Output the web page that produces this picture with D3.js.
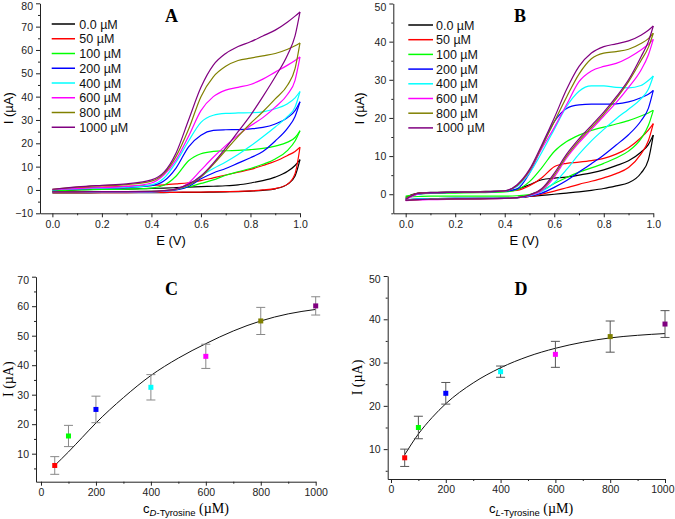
<!DOCTYPE html>
<html><head><meta charset="utf-8">
<script src="https://cdn.jsdelivr.net/npm/d3@7/dist/d3.min.js"></script>
<style>body{margin:0;background:#fff}</style>
</head><body><svg id="chart" width="675" height="519"></svg>
<script>
// ---------- DATA ----------
const concLabels = ["0.0 µM","50 µM","100 µM","200 µM","400 µM","600 µM","800 µM","1000 µM"];
const seriesColors = ["#000000","#ff0000","#00ff00","#0000ff","#00ffff","#ff00ff","#808000","#800080"];
const potentials = [0,0.05,0.1,0.2,0.3,0.4,0.45,0.5,0.55,0.6,0.65,0.7,0.75,0.8,0.85,0.9,0.95,0.98,1.0];

// Panel A (D-tyrosine) forward scan (lower branch) and reverse scan (upper branch), µA
const cvA_forward = [
  [-1.3,-1.3,-1.3,-1.2,-1.2,-1.1,-1.1,-1.0,-1.0,-1.0,-0.9,-0.8,-0.7,-0.5,-0.2,0.5,2.5,6,13],
  [-1.2,-1.2,-1.2,-1.1,-1.1,-1.0,-1.0,-1.0,-0.9,-0.9,-0.8,-0.7,-0.6,-0.4,0,0.6,2.5,7,18.3],
  [-0.8,-0.8,-0.8,-0.8,-0.7,-0.6,-0.4,0.2,1.3,2.8,4.3,6.3,7.8,9.2,11,13.3,17,21,25.4],
  [-1,-1,-1,-0.9,-0.9,-0.8,-0.5,0,1.5,4.8,7.3,9.2,11.5,13.8,16.5,21,26.5,31.5,37.8],
  [-1,-1,-1,-0.9,-0.9,-0.8,-0.5,0.3,2,6,9.2,12,15.2,18.8,22.8,27,31.5,35.5,42.2],
  [-0.9,-0.9,-0.9,-0.8,-0.8,-0.7,-0.4,0.3,3,8.5,14,19,23.5,27.5,31,35.5,41,47,57],
  [-0.8,-0.8,-0.8,-0.7,-0.7,-0.6,-0.3,0.3,2,5.5,11,17,23,28.5,33.5,39,45,52,63],
  [-0.8,-0.8,-0.8,-0.7,-0.7,-0.6,-0.3,0.5,2.5,6,11.5,18,25,32,40,48.5,58,66,76.3]
];
const cvA_reverse = [
  [-0.6,-0.3,0,0.3,0.4,0.7,0.8,1.0,1.2,1.4,1.6,1.8,2.2,3,4,5.5,8,10.5,13],
  [0,0.4,0.8,1.2,1.5,2,2.2,2.6,3.1,4,5.2,6.4,7.6,8.8,10.5,12.3,14.8,16.5,18.3],
  [-0.5,-0.2,0,0.2,0.4,0.8,2,6,12.5,15.5,16.5,16.8,17,17.3,17.8,18.8,20.5,22.5,25.4],
  [0,0.3,0.5,0.8,1,1.8,3.8,9.5,18.5,23.5,25.5,25.8,25.9,26.2,26.8,28.3,31,34,37.8],
  [0,0.3,0.5,0.8,1.2,2.2,5,12,21,29,32,32.8,33,33.1,33.5,34.8,37,39.5,42.2],
  [0.2,0.4,0.6,1,1.5,3,6.4,13,23,34,40,42.8,44,45.2,47.5,50.5,53.5,55.5,57],
  [0.3,0.8,1.2,1.8,2.3,3.8,7,14.5,26,40,48.5,53,55.5,56.5,57.5,58.5,60.3,61.8,63],
  [0.3,0.8,1.3,2,2.6,4.3,7.5,16,30,44,53.5,58.5,61.5,63.5,66,68.5,72,74.5,76.3]
];

// Panel B (L-tyrosine)
const cvB_forward = [
  [-1.5,-1.3,-1.2,-1.1,-1.1,-1.0,-0.9,-0.6,-0.3,0,0.3,0.6,1.0,1.5,2.2,3.0,5.5,9,15.5],
  [-1.6,-1.4,-1.3,-1.2,-1.1,-1.0,-0.9,-0.6,0,0.8,1.7,2.6,3.4,4.3,5.4,7,10.5,14,18.5],
  [-0.8,-0.6,-0.5,-0.5,-0.5,-0.5,-0.4,-0.1,1,2.8,4.4,5.8,6.9,8.1,9.5,11.3,14.5,18,22],
  [-1.5,-1.3,-1.2,-1.1,-1.1,-1.0,-0.9,-0.5,0.3,1.8,3.6,5.8,8,10.3,12.9,15.6,19.2,22.5,27.2],
  [-1.5,-1.3,-1.2,-1.1,-1.1,-1.0,-0.9,-0.4,0.7,3,6.5,10.5,14,17,19.8,22.3,25,27.5,31],
  [-1.7,-1.5,-1.4,-1.3,-1.2,-1.1,-0.9,-0.3,1,4.5,9.5,13.5,17,20.5,24,28,32.5,36.5,40.6],
  [-1.6,-1.4,-1.3,-1.2,-1.2,-1.1,-0.9,-0.2,1.3,5,10,14,17.5,21,25,29.5,35,38.5,42.2],
  [-1.6,-1.4,-1.3,-1.2,-1.2,-1.1,-0.9,-0.2,1.5,5.5,10.5,14.5,18,21.5,25.5,30,36,40,44.1]
];
const cvB_reverse = [
  [-0.8,0.3,0.5,0.6,0.7,0.9,1.3,2.5,3.8,4.2,4.5,5.0,5.6,6.4,7.5,8.8,11,13,15.5],
  [-1,0.2,0.4,0.5,0.6,0.8,1.0,2.2,4.3,7.2,8.1,8.4,8.8,9.4,10.5,12.2,14.8,16.8,18.5],
  [-0.5,0,0.2,0.3,0.4,0.6,1.2,3.3,7,11.2,13.8,15.5,16.7,17.6,18.4,19.3,20.5,21.3,22],
  [-1.2,0,0.3,0.5,0.6,0.8,1.4,5.5,12.5,19,22.5,23.4,23.6,23.6,23.7,24.2,25.3,26.2,27.2],
  [-1.3,0.1,0.4,0.5,0.6,0.9,2,5.5,11,17,23,27,28.4,28.4,28,27.9,28.5,29.8,31],
  [-1.5,0.1,0.4,0.5,0.6,0.9,2.3,6,12,17.5,23.5,29.5,32.3,33.5,34.3,35.8,37.8,39.3,40.6],
  [-1.3,0.2,0.4,0.5,0.6,0.9,2.3,6.2,12.5,19,25.5,31.5,35.5,37,37.4,38,39.5,40.8,42.2],
  [-1.3,0.2,0.4,0.5,0.6,0.9,2.5,6.5,13,20,27.5,33.5,37,38.7,39.4,40.2,41.7,43,44.1]
];

// Panels C and D: calibration
const calConc = [50,100,200,400,600,800,1000];
const calColors = ["#ff0000","#00ff00","#0000ff","#00ffff","#ff00ff","#808000","#800080"];
const peakC = [6,16,25,32.5,43,55,60.1];
const errC = [3,3.6,4.5,4.3,4.1,4.6,3.1];
const fitConc = [50,100,150,200,300,400,500,600,700,800,900,1000];
const fitC = [6,10.6,15.5,20.4,29,36.5,42.4,47.3,51.6,55,57.4,58.9];
const peakD = [8,15,22.9,27.9,31.9,36,38.9];
const errD = [2,2.6,2.5,1.3,3,3.6,3.1];
const fitD = [8.7,13.5,17.3,20.5,25.3,28.8,31.4,33.3,34.7,35.7,36.3,36.7];

// ---------- DRAWING ----------
const svg = d3.select("#chart");
const sans = "'Liberation Sans', Arial, sans-serif";
const serif = "'Liberation Serif', 'Times New Roman', serif";
const axisColor = "#222";

function drawAxes(x, y, xMaj, xMin, yMaj, yMin, xFmt, yFmt) {
  const y0 = y.range()[0], x0 = x.range()[0];
  const gx = svg.append("g").attr("transform", `translate(0,${y0})`);
  gx.call(d3.axisBottom(x).tickValues(xMaj).tickSize(4).tickSizeOuter(0).tickPadding(3).tickFormat(xFmt));
  gx.append("g").call(d3.axisBottom(x).tickValues(xMin).tickSize(2).tickFormat(""))
    .select(".domain").remove();
  const gy = svg.append("g").attr("transform", `translate(${x0},0)`);
  gy.call(d3.axisLeft(y).tickValues(yMaj).tickSize(4).tickSizeOuter(0).tickPadding(3).tickFormat(yFmt));
  gy.append("g").call(d3.axisLeft(y).tickValues(yMin).tickSize(2).tickFormat(""))
    .select(".domain").remove();
  [gx, gy].forEach(g => {
    g.selectAll("path,line").attr("stroke", axisColor).attr("stroke-width", 1);
    g.selectAll("text").attr("font-family", sans).attr("font-size", 10.5).attr("fill", "#222");
  });
  // keep the top y label and the far-right x label inside the picture
  const ymax = d3.max(yMaj);
  gy.selectAll(".tick").filter(d => d === ymax).select("text").attr("dy", "0.62em");
  const xmax = d3.max(xMaj);
  if (x(xmax) + 12 > 675) gx.selectAll(".tick").filter(d => d === xmax).select("text").attr("text-anchor", "end").attr("x", 9);
}

function title(txt, cx, by) {
  svg.append("text").attr("x", cx).attr("y", by).attr("text-anchor", "middle")
    .attr("font-family", serif).attr("font-weight", "bold").attr("font-size", 18).text(txt);
}

function cvPanel(box, yDom, yMaj, yMin, fwd, rev, legendBox, ttl) {
  const x = d3.scaleLinear().domain([-0.05, 1.0]).range([box.x0, box.x1]);
  const y = d3.scaleLinear().domain(yDom).range([box.y0, box.y1]);
  drawAxes(x, y, [0,0.2,0.4,0.6,0.8,1.0], [0.1,0.3,0.5,0.7,0.9], yMaj, yMin, d3.format(".1f"), d3.format("d"));
  const line = d3.line().x(d => x(d[0])).y(d => y(d[1])).curve(d3.curveMonotoneX);
  const g = svg.append("g");
  fwd.forEach((arr, i) => {
    const f = potentials.map((e, k) => [e, arr[k]]);
    const r = potentials.map((e, k) => [e, rev[i][k]]);
    g.append("path").attr("d", line(f)).attr("fill", "none").attr("stroke", seriesColors[i]).attr("stroke-width", 1.2);
    g.append("path").attr("d", line(r)).attr("fill", "none").attr("stroke", seriesColors[i]).attr("stroke-width", 1.2);
  });
  // legend
  const lg = svg.append("g");
  concLabels.forEach((lab, i) => {
    const yy = legendBox.y + i * legendBox.dy;
    lg.append("line").attr("x1", legendBox.l0).attr("x2", legendBox.l1).attr("y1", yy).attr("y2", yy)
      .attr("stroke", seriesColors[i]).attr("stroke-width", 1.5);
    lg.append("text").attr("x", legendBox.t).attr("y", yy + 4.5).attr("font-family", sans)
      .attr("font-size", 12.5).attr("fill", "#111").text(lab);
  });
  // labels
  svg.append("text").attr("x", (box.x0 + box.x1) / 2 + 1).attr("y", 245).attr("text-anchor", "middle")
    .attr("font-family", sans).attr("font-size", 13).text("E (V)");
  svg.append("text").attr("transform", `translate(${box.ylab},${(box.y0 + box.y1) / 2}) rotate(-90)`)
    .attr("text-anchor", "middle").attr("font-family", sans).attr("font-size", 13).text("I (µA)");
  title(ttl, box.tx, 22);
}

cvPanel({x0: 40, x1: 300, y0: 213.3, y1: 3.3, ylab: 13, tx: 171.5}, [-10, 80],
  d3.range(-10, 81, 10), d3.range(-5, 80, 10), cvA_forward, cvA_reverse,
  {l0: 51.7, l1: 75, t: 79.3, y: 24, dy: 14.75}, "A");
cvPanel({x0: 393.3, x1: 653.3, y0: 213.3, y1: 3.5, ylab: 364, tx: 520}, [-5, 50],
  d3.range(0, 51, 10), d3.range(-5, 50, 10), cvB_forward, cvB_reverse,
  {l0: 408.3, l1: 433, t: 436, y: 25, dy: 14.7}, "B");

function calPanel(box, xDom, yDom, yMaj, yMin, peaks, errs, fit, errColor, sub, ttl) {
  const x = d3.scaleLinear().domain(xDom).range([box.x0, box.x1]);
  const y = d3.scaleLinear().domain(yDom).range([box.y0, box.y1]);
  drawAxes(x, y, [0,200,400,600,800,1000], [100,300,500,700,900], yMaj, yMin, d3.format("d"), d3.format("d"));
  const line = d3.line().x(d => x(d[0])).y(d => y(d[1])).curve(d3.curveMonotoneX);
  svg.append("path").attr("d", line(fitConc.map((c, i) => [c, fit[i]])))
    .attr("fill", "none").attr("stroke", "#111").attr("stroke-width", 1);
  const g = svg.append("g");
  calConc.forEach((c, i) => {
    const cx = x(c), ylo = y(peaks[i] - errs[i]), yhi = y(peaks[i] + errs[i]);
    g.append("line").attr("x1", cx).attr("x2", cx).attr("y1", ylo).attr("y2", yhi).attr("stroke", errColor).attr("stroke-width", 1);
    [ylo, yhi].forEach(yy => g.append("line").attr("x1", cx - 4.5).attr("x2", cx + 4.5).attr("y1", yy).attr("y2", yy)
      .attr("stroke", errColor).attr("stroke-width", 1));
    g.append("rect").attr("x", cx - 2.5).attr("y", y(peaks[i]) - 2.5).attr("width", 5).attr("height", 5)
      .attr("fill", calColors[i]);
  });
  const t = svg.append("text").attr("x", box.lx).attr("y", 513).attr("text-anchor", "middle")
    .attr("font-family", sans).attr("font-size", 13);
  t.append("tspan").text("c");
  t.append("tspan").attr("font-size", 9.5).attr("dy", 3).attr("font-style", "italic").text(sub);
  t.append("tspan").attr("font-size", 9.5).text("-Tyrosine");
  t.append("tspan").attr("dy", -3).attr("font-family", serif).attr("font-size", 14).text(" (µM)");
  svg.append("text").attr("transform", `translate(${box.ylab},${(box.y0 + box.y1) / 2}) rotate(-90)`)
    .attr("text-anchor", "middle").attr("font-family", serif).attr("font-size", 14).text("I (µA)");
  title(ttl, box.tx, 295);
}

calPanel({x0: 36, x1: 315.7, y0: 481.7, y1: 276.7, lx: 186, ylab: 13, tx: 171.5}, [-18.2, 1000], [0.5, 70],
  d3.range(10, 71, 10), d3.range(5, 70, 10), peakC, errC, fitC, "#888", "D", "C");
calPanel({x0: 387.7, x1: 665, y0: 479, y1: 276, lx: 531, ylab: 362, tx: 521}, [-12, 1000], [3.1, 50],
  d3.range(10, 51, 10), d3.range(5, 50, 10), peakD, errD, fitD, "#555", "L", "D");
</script>
</body></html>
